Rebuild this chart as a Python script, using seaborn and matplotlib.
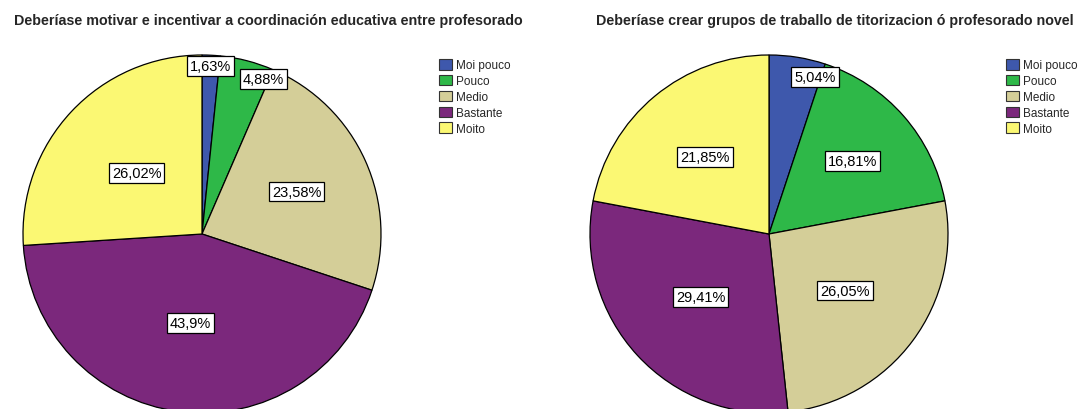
import numpy as np
import matplotlib
matplotlib.use("Agg")
import matplotlib.pyplot as plt
import seaborn as sns
from matplotlib.patches import Patch

sns.set_style("white")
plt.rcParams['font.family'] = ['Liberation Sans', 'DejaVu Sans']

categories = ["Moi pouco", "Pouco", "Medio", "Bastante", "Moito"]
colors = ["#3E58AC", "#2EB848", "#D4CE98", "#7B287C", "#FBF873"]

title1 = "Deberíase motivar e incentivar a coordinación educativa entre profesorado"
values1 = [1.63, 4.88, 23.58, 43.9, 26.02]
labels1 = ["1,63%", "4,88%", "23,58%", "43,9%", "26,02%"]

title2 = "Deberíase crear grupos de traballo de titorizacion ó profesorado novel"
values2 = [5.04, 16.81, 26.05, 29.41, 21.85]
labels2 = ["5,04%", "16,81%", "26,05%", "29,41%", "21,85%"]

W, H = 1080, 410
fig = plt.figure(figsize=(W / 100, H / 100), dpi=100)

def draw(cx, cy, r, values, labels, dists, aligns, title, tx, lx):
    ax = fig.add_axes([(cx - r) / W, 1 - (cy + r) / H, 2 * r / W, 2 * r / H])
    wedges, _ = ax.pie(values, colors=colors, startangle=90, counterclock=False,
                       radius=1, normalize=True,
                       wedgeprops=dict(edgecolor="black", linewidth=0.9))
    for w, lab, d, ha in zip(wedges, labels, dists, aligns):
        ang = np.deg2rad((w.theta1 + w.theta2) / 2)
        ax.text(d * np.cos(ang), d * np.sin(ang), lab, ha=ha, va="center",
                fontsize=10.5, color="black",
                bbox=dict(boxstyle="square,pad=0.2", fc="white", ec="black", lw=0.9))
    ax.set_xlim(-1, 1)
    ax.set_ylim(-1, 1)
    ax.set_aspect("equal")
    ax.axis("off")
    fig.text(tx / W, 1 - 21 / H, title, ha="center", va="center",
             fontsize=10.3, fontweight="bold")
    handles = [Patch(facecolor=c, edgecolor="#333333", linewidth=0.8) for c in colors]
    fig.legend(handles, categories, loc="upper left",
               bbox_to_anchor=(lx / W, 1 - 60 / H), frameon=False,
               fontsize=8.5, handlelength=1.1, handleheight=1.0,
               handletextpad=0.3, labelspacing=0.3, borderpad=0, borderaxespad=0)

draw(202, 235, 179, values1, labels1, [0.94, 0.895, 0.58, 0.5, 0.5],
     ["center", "left", "center", "center", "center"], title1, 268, 439)
draw(769, 235, 179, values2, labels2, [0.888, 0.62, 0.53, 0.52, 0.56],
     ["left", "center", "center", "center", "center"], title2, 835, 1006)

fig.savefig("out.png", dpi=100, facecolor="white")
